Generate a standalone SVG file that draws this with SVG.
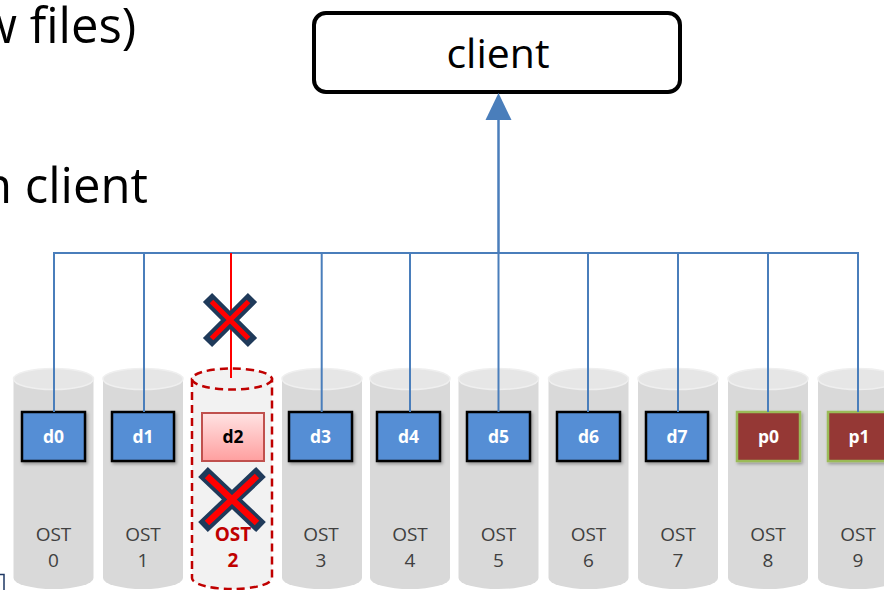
<svg xmlns="http://www.w3.org/2000/svg" width="884" height="590" viewBox="0 0 884 590">
<style>
.big{font-family:"Open Sans","Noto Sans","Liberation Sans",sans-serif;fill:#000}
.cyl{fill:#d9d9d9}
.top{fill:#e6e6e6;stroke:#efefef;stroke-width:1.5}
.ost{font-family:"Open Sans","Liberation Sans",sans-serif;font-size:19px;fill:#404040;text-anchor:middle}
.ostx{font-family:"Open Sans","Liberation Sans",sans-serif;font-size:19px;fill:#c00000;font-weight:bold;text-anchor:middle}
.dbox{fill:#558ed5;stroke:#000;stroke-width:2.5}
.pbox{fill:#953735;stroke:#9bbb59;stroke-width:2.5}
.lbl{font-family:"Open Sans","Liberation Sans",sans-serif;font-size:17.5px;font-weight:bold;fill:#fff;text-anchor:middle}
.wire{stroke:#4a7ebb;stroke-width:2;fill:none}
.xo{stroke:#1f3a5a;stroke-linecap:butt}
.xi{stroke:#ff0000;stroke-linecap:butt}
</style>
<defs>
<filter id="sh" x="-20%" y="-20%" width="150%" height="150%">
<feDropShadow dx="1.5" dy="2" stdDeviation="1.5" flood-color="#000" flood-opacity="0.3"/>
</filter>
<linearGradient id="pink" x1="0" y1="0" x2="0" y2="1">
<stop offset="0" stop-color="#ffe3e3"/>
<stop offset="1" stop-color="#ff9f9f"/>
</linearGradient>
</defs>

<text class="big" x="-21" y="43" font-size="49">w files)</text>
<text class="big" x="-18" y="203" font-size="49">n client</text>
<path d="M0,574.5 H4 V590" fill="none" stroke="#1f3864" stroke-width="1.5"/>

<g id="client">
<rect x="314" y="13" width="366" height="79" rx="12" fill="#fff" stroke="#000" stroke-width="4"/>
<text class="big" x="498" y="68" font-size="41" text-anchor="middle">client</text>
</g>

<g id="ost0">
<path class="cyl" d="M13.5,379 V578 A40,11 0 0 0 93.5,578 V379 Z"/>
<ellipse class="top" cx="53.5" cy="379" rx="40" ry="10.5"/>
<rect class="dbox" x="22" y="412" width="63" height="49" filter="url(#sh)"/>
<text class="lbl" x="53.5" y="443">d0</text>
<text class="ost" x="53.5" y="541">OST</text><text class="ost" x="53.5" y="567">0</text>
</g>
<g id="ost1">
<path class="cyl" d="M103,379 V578 A40,11 0 0 0 183,578 V379 Z"/>
<ellipse class="top" cx="143" cy="379" rx="40" ry="10.5"/>
<rect class="dbox" x="112" y="412" width="62" height="49" filter="url(#sh)"/>
<text class="lbl" x="143" y="443">d1</text>
<text class="ost" x="143" y="541">OST</text><text class="ost" x="143" y="567">1</text>
</g>
<g id="ost2">
<path d="M192,379 V578 A40,11 0 0 0 272,578 V379 Z" fill="#f2f2f2" stroke="#c00000" stroke-width="2.5" stroke-dasharray="8,5"/>
<ellipse cx="232" cy="379" rx="40" ry="10.5" fill="#f2f2f2" stroke="#c00000" stroke-width="2.5" stroke-dasharray="8,5"/>
<rect x="202" y="413" width="62" height="48" fill="url(#pink)" stroke="#c0504d" stroke-width="2"/>
<text class="lbl" x="233" y="443" style="fill:#000">d2</text>
<text class="ostx" x="233" y="541">OST</text><text class="ostx" x="233" y="567">2</text>
</g>
<g id="ost3">
<path class="cyl" d="M282,379 V578 A40,11 0 0 0 362,578 V379 Z"/>
<ellipse class="top" cx="322" cy="379" rx="40" ry="10.5"/>
<rect class="dbox" x="289" y="412" width="63" height="49" filter="url(#sh)"/>
<text class="lbl" x="320.5" y="443">d3</text>
<text class="ost" x="321" y="541">OST</text><text class="ost" x="321" y="567">3</text>
</g>
<g id="ost4">
<path class="cyl" d="M370,379 V578 A40,11 0 0 0 450,578 V379 Z"/>
<ellipse class="top" cx="410" cy="379" rx="40" ry="10.5"/>
<rect class="dbox" x="377" y="412" width="63" height="49" filter="url(#sh)"/>
<text class="lbl" x="408.5" y="443">d4</text>
<text class="ost" x="410" y="541">OST</text><text class="ost" x="410" y="567">4</text>
</g>
<g id="ost5">
<path class="cyl" d="M458.5,379 V578 A40,11 0 0 0 538.5,578 V379 Z"/>
<ellipse class="top" cx="498.5" cy="379" rx="40" ry="10.5"/>
<rect class="dbox" x="467" y="412" width="63" height="49" filter="url(#sh)"/>
<text class="lbl" x="498.5" y="443">d5</text>
<text class="ost" x="498.5" y="541">OST</text><text class="ost" x="498.5" y="567">5</text>
</g>
<g id="ost6">
<path class="cyl" d="M548.5,379 V578 A40,11 0 0 0 628.5,578 V379 Z"/>
<ellipse class="top" cx="588.5" cy="379" rx="40" ry="10.5"/>
<rect class="dbox" x="557" y="412" width="63" height="49" filter="url(#sh)"/>
<text class="lbl" x="588.5" y="443">d6</text>
<text class="ost" x="588.5" y="541">OST</text><text class="ost" x="588.5" y="567">6</text>
</g>
<g id="ost7">
<path class="cyl" d="M638,379 V578 A40,11 0 0 0 718,578 V379 Z"/>
<ellipse class="top" cx="678" cy="379" rx="40" ry="10.5"/>
<rect class="dbox" x="646" y="412" width="62" height="49" filter="url(#sh)"/>
<text class="lbl" x="677" y="443">d7</text>
<text class="ost" x="678" y="541">OST</text><text class="ost" x="678" y="567">7</text>
</g>
<g id="ost8">
<path class="cyl" d="M728,379 V578 A40,11 0 0 0 808,578 V379 Z"/>
<ellipse class="top" cx="768" cy="379" rx="40" ry="10.5"/>
<rect class="pbox" x="737" y="412" width="63" height="49" filter="url(#sh)"/>
<text class="lbl" x="768.5" y="443">p0</text>
<text class="ost" x="768" y="541">OST</text><text class="ost" x="768" y="567">8</text>
</g>
<g id="ost9">
<path class="cyl" d="M818,379 V578 A40,11 0 0 0 898,578 V379 Z"/>
<ellipse class="top" cx="858" cy="379" rx="40" ry="10.5"/>
<rect class="pbox" x="828" y="412" width="63" height="49" filter="url(#sh)"/>
<text class="lbl" x="859" y="443">p1</text>
<text class="ost" x="858" y="541">OST</text><text class="ost" x="858" y="567">9</text>
</g>

<g id="connectors">
<path class="wire" d="M54,412 V253 H858 V412"/>
<path class="wire" d="M144,253 V412 M321.7,253 V412 M410,253 V412 M498.5,253 V412 M588,253 V412 M678,253 V412 M768,253 V412"/>
<line x1="498.5" y1="253" x2="498.5" y2="105" stroke="#4a7ebb" stroke-width="2.5"/>
<path d="M498.5,93 L511.5,120 L485.5,120 Z" fill="#4a7ebb"/>
<line x1="231" y1="253" x2="231" y2="378" stroke="#ff0000" stroke-width="2"/>
</g>

<g id="x-link">
<path class="xo" stroke-width="13" d="M207.5,297.5 L252.5,342.5 M252.5,297.5 L207.5,342.5"/>
<path class="xi" stroke-width="5" d="M211.5,301.5 L248.5,338.5 M248.5,301.5 L211.5,338.5"/>
</g>
<g id="x-ost">
<path class="xo" stroke-width="14" d="M203,472 L261,527 M261,472 L203,527"/>
<path class="xi" stroke-width="6.5" d="M207,476 L257,523 M257,476 L207,523"/>
</g>
</svg>
